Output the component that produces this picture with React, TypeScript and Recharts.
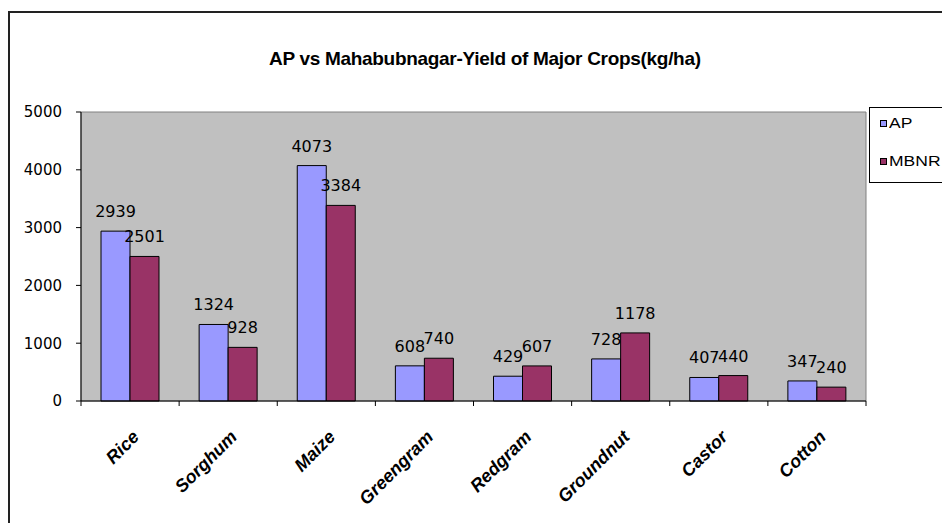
import React from "react";
import {
  Bar,
  BarChart,
  LabelList,
  ReferenceArea,
  XAxis,
  YAxis,
} from "recharts";

const crops = ["Rice", "Sorghum", "Maize", "Greengram", "Redgram", "Groundnut", "Castor", "Cotton"];
const apYield = [2939, 1324, 4073, 608, 429, 728, 407, 347];
const mbnrYield = [2501, 928, 3384, 740, 607, 1178, 440, 240];
const yTicks = [0, 1000, 2000, 3000, 4000, 5000];

const AP_COLOR = "#9999ff";
const MBNR_COLOR = "#993366";
const FONT = "Arial, 'Liberation Sans', sans-serif";
const NUM_FONT = "'DejaVu Sans', sans-serif";

const W = 942;
const H = 523;
const PLOT_LEFT = 81;
const PLOT_RIGHT = 866;
const PLOT_TOP = 112;
const PLOT_BOTTOM = 401;
const BAND = (PLOT_RIGHT - PLOT_LEFT) / crops.length;

const data = crops.map((name, i) => ({ name, ap: apYield[i], mbnr: mbnrYield[i] }));

// rotated category label + tick marks on the band boundaries (excel style)
function CropTick(props: any) {
  const { x, y, payload, index } = props;
  const last = index === crops.length - 1;
  const ax = x + 10;
  const ay = y + 37;
  return (
    <g>
      <line x1={x - BAND / 2} y1={y} x2={x - BAND / 2} y2={y + 5} stroke="#000" />
      {last && <line x1={x + BAND / 2} y1={y} x2={x + BAND / 2} y2={y + 5} stroke="#000" />}
      <text
        x={ax}
        y={ay}
        transform={`rotate(-45, ${ax}, ${ay})`}
        textAnchor="end"
        fontFamily={FONT}
        fontSize={18}
        fontWeight="bold"
        fontStyle="italic"
        fill="#000"
      >
        {payload.value}
      </text>
    </g>
  );
}

export default function App() {
  return (
    <div style={{ position: "absolute", left: 0, top: 0, width: W, height: H, overflow: "hidden", background: "#fff" }}>
      <div
        style={{
          position: "absolute",
          left: 8,
          top: 11,
          width: 980,
          height: 560,
          border: "2px solid #222",
          boxSizing: "border-box",
        }}
      />
      <div
        style={{
          position: "absolute",
          left: 269,
          top: 48,
          whiteSpace: "nowrap",
          fontFamily: FONT,
          fontWeight: "bold",
          fontSize: 19,
          letterSpacing: -0.3,
        }}
      >
        AP vs Mahabubnagar-Yield of Major Crops(kg/ha)
      </div>
      <div style={{ position: "absolute", left: 0, top: 0 }}>
        <BarChart
          width={W}
          height={H}
          data={data}
          barCategoryGap={20}
          barGap={0}
          margin={{ top: PLOT_TOP, right: W - PLOT_RIGHT, bottom: 0, left: PLOT_LEFT - 60 }}
        >
          <ReferenceArea y1={0} y2={5000} fill="#c0c0c0" fillOpacity={1} stroke="#808080" ifOverflow="extendDomain" />
          <XAxis
            dataKey="name"
            height={H - PLOT_BOTTOM}
            axisLine={{ stroke: "#000" }}
            tickLine={false}
            tickSize={0}
            tickMargin={0}
            interval={0}
            tick={<CropTick />}
          />
          <YAxis
            width={60}
            domain={[0, 5000]}
            ticks={yTicks}
            axisLine={{ stroke: "#000" }}
            tickLine={{ stroke: "#000" }}
            tickSize={5}
            tickMargin={14}
            tick={{ fontFamily: NUM_FONT, fontSize: 15, fill: "#000" }}
          />
          <Bar dataKey="ap" fill={AP_COLOR} stroke="#000" strokeWidth={1} isAnimationActive={false}>
            <LabelList dataKey="ap" position="top" offset={14} fill="#000" fontFamily={NUM_FONT} fontSize={16} />
          </Bar>
          <Bar dataKey="mbnr" fill={MBNR_COLOR} stroke="#000" strokeWidth={1} isAnimationActive={false}>
            <LabelList dataKey="mbnr" position="top" offset={14} fill="#000" fontFamily={NUM_FONT} fontSize={16} />
          </Bar>
        </BarChart>
      </div>
      <div
        style={{
          position: "absolute",
          left: 869,
          top: 107,
          width: 100,
          height: 76,
          border: "1px solid #000",
          boxSizing: "border-box",
          background: "#fff",
          fontFamily: FONT,
          fontSize: 14,
        }}
      >
        {[
          { label: "AP", color: AP_COLOR, top: 7 },
          { label: "MBNR", color: MBNR_COLOR, top: 45 },
        ].map((item) => (
          <div key={item.label} style={{ position: "absolute", left: 10, top: item.top, display: "flex", alignItems: "center", whiteSpace: "nowrap" }}>
            <span
              style={{
                display: "inline-block",
                width: 5,
                height: 5,
                background: item.color,
                border: "1px solid #000",
                marginRight: 2,
              }}
            />
            <span style={{ display: "inline-block", transform: "scaleX(1.25)", transformOrigin: "left center" }}>{item.label}</span>
          </div>
        ))}
      </div>
    </div>
  );
}
